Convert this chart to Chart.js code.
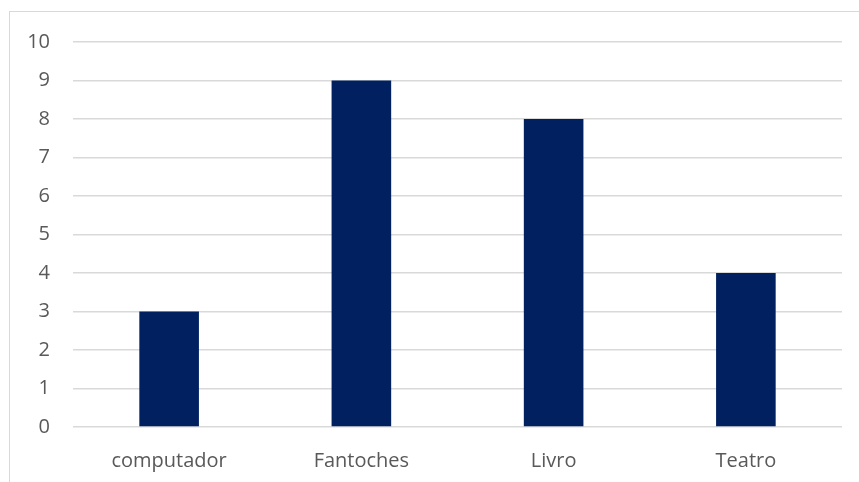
<!DOCTYPE html>
<html lang="pt">
<head>
  <meta charset="UTF-8">
  <title>Gráfico</title>
  <script src="https://cdn.jsdelivr.net/npm/chart.js"></script>
  <style>
    html, body { margin: 0; padding: 0; background: #fff; overflow: hidden; }
    #wrap { position: relative; width: 859px; height: 482px; }
    #frame { position: absolute; left: 9px; top: 11px; width: 900px; height: 500px; border: 1.5px solid #d9d9d9; box-sizing: border-box; }
    #chart { position: absolute; left: 0; top: 0; }
  </style>
</head>
<body>
  <div id="wrap">
    <div id="frame"></div>
    <canvas id="chart" width="859" height="482"></canvas>
  </div>

  <script>
    const categories = ["computador", "Fantoches", "Livro", "Teatro"];
    const values = [3, 9, 8, 4];
    const yTicks = [0, 1, 2, 3, 4, 5, 6, 7, 8, 9, 10];

    const ctx = document.getElementById("chart").getContext("2d");
    new Chart(ctx, {
      type: 'bar',
      data: {
        labels: categories,
        datasets: [{
          data: values,
          backgroundColor: '#002060',
          borderWidth: 0,
          categoryPercentage: 1,
          barPercentage: 0.31
        }]
      },
      options: {
        responsive: false,
        animation: false,
        layout: { padding: { left: 0, top: 42, right: 17, bottom: 0 } },
        plugins: { legend: { display: false }, tooltip: { enabled: false } },
        scales: {
          x: {
            grid: { display: false },
            border: { display: false },
            ticks: { color: '#595959', font: { family: 'Open Sans', size: 20 }, padding: 14 },
            afterFit: s => { s.height = 55; }
          },
          y: {
            min: 0, max: 10,
            afterBuildTicks: s => { s.ticks = yTicks.map(v => ({ value: v })); },
            grid: { color: '#d9d9d9', lineWidth: 1.5, drawTicks: false },
            border: { display: false },
            ticks: { color: '#595959', font: { family: 'Open Sans', size: 20 }, padding: 23 },
            afterFit: s => { s.width = 73; }
          }
        }
      }
    });
  </script>
</body>
</html>
